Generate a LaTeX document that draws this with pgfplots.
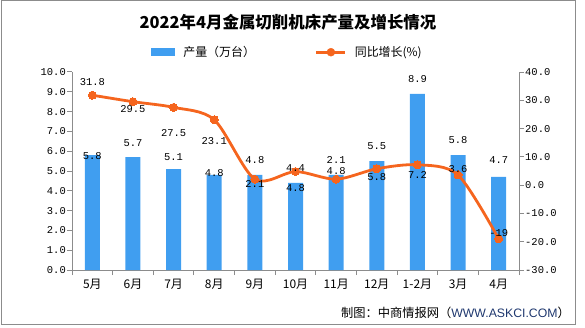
\documentclass[border=0pt]{standalone}
\usepackage{fontspec}
\usepackage{pgfplots}
\pgfplotsset{compat=1.18}
\setmainfont{Noto Sans CJK SC}
\newfontfamily\mono{Liberation Mono}
\newfontfamily\lsans{Liberation Sans}
\definecolor{barblue}{RGB}{64,158,240}
\definecolor{lineor}{RGB}{245,101,30}
\definecolor{axgray}{RGB}{140,140,140}
\definecolor{footblue}{RGB}{30,55,110}
\pgfplotstableread{
x y lab
0 5.76 5.8
1 6.41 5.7
2 5.71 5.1
3 4.91 4.8
4 5.56 4.8
5 5.14 4.4
6 5.00 4.8
7 6.26 5.5
8 9.63 8.9
9 6.57 5.8
10 5.56 4.7
}\barlabels
\pgfplotstableread{
x y lab
0 9.48 31.8
1 8.11 29.5
2 6.94 27.5
3 6.53 23.1
4 4.34 2.1
5 4.12 4.8
6 5.56 2.1
7 4.71 5.8
8 4.80 7.2
9 5.08 3.6
10 1.85 -19
}\linelabels
\begin{document}
\begin{tikzpicture}[x=1bp,y=1bp]
\path[use as bounding box] (0,0) rectangle (585,327);
\draw[axgray, line width=1bp] (1,2.5) rectangle (575,326.5);
\node[font=\bfseries\fontsize{16.5}{18}\selectfont] at (288,305) {2022年4月金属切削机床产量及增长情况};
\node[anchor=east, font=\fontsize{12.3}{14}\selectfont, inner sep=0] at (570,14) {制图：中商情报网（\textcolor{footblue}{\lsans WWW.ASKCI.COM}）};
\begin{axis}[
  at={(72bp,57bp)}, anchor=south west, scale only axis,
  width=447bp, height=198bp,
  xmin=-0.5, xmax=10.5, ymin=0, ymax=10,
  axis y line*=left, axis x line*=bottom,
  axis line style={axgray, line width=1bp, -},
  tick style={axgray, line width=1bp},
  tick align=outside, major tick length=5bp,
  xtick={-0.5,0.5,1.5,2.5,3.5,4.5,5.5,6.5,7.5,8.5,9.5,10.5},
  x tick label as interval,
  xticklabels={5月,6月,7月,8月,9月,10月,11月,12月,1-2月,3月,4月},
  xticklabel style={font=\fontsize{12}{14}\selectfont, text=black, yshift=-1bp},
  ytick={0,1,...,10},
  /pgf/number format/assume math mode=true,
  yticklabel={\pgfmathprintnumber[fixed,fixed zerofill,precision=1]{\tick}},
  yticklabel style={font=\mono\fontsize{10.5}{12}\selectfont, text=black, inner sep=1bp},
  legend style={at={(axis description cs:0.177,1.1)}, anchor=west, draw=none, fill=none,
    legend columns=2, font=\fontsize{12}{14}\selectfont, inner sep=0pt,
    /tikz/every odd column/.append style={column sep=6bp},
    /tikz/every even column/.append style={column sep=58bp}},
  clip=false,
]
\addplot[ybar, bar width=15bp, fill=barblue, draw=none,
  legend image code/.code={\fill[barblue] (0bp,-4bp) rectangle (24bp,4bp);}]
  coordinates {(0,5.8) (1,5.7) (2,5.1) (3,4.8) (4,4.8) (5,4.4) (6,4.8) (7,5.5) (8,8.9) (9,5.8) (10,4.7)};
\addlegendentry{产量（万台）}
\addlegendimage{legend image code/.code={\draw[lineor, line width=2.8bp] (0bp,0bp) -- (29bp,0bp); \fill[lineor] (14.5bp,0bp) circle (4bp);}}
\addlegendentry{同比增长(\%)}
\end{axis}
\begin{axis}[
  at={(72bp,57bp)}, anchor=south west, scale only axis,
  width=447bp, height=198bp,
  xmin=-0.5, xmax=10.5, ymin=-30, ymax=40,
  axis y line*=right, axis x line=none,
  axis line style={axgray, line width=1bp, -},
  tick style={axgray, line width=1bp},
  tick align=outside, major tick length=5bp,
  ytick={-30,-20,...,40},
  /pgf/number format/assume math mode=true,
  yticklabel={\pgfmathprintnumber[fixed,fixed zerofill,precision=1]{\tick}},
  yticklabel style={font=\mono\fontsize{10.5}{12}\selectfont, text=black, inner sep=1bp},
  clip=false,
]
\addplot[lineor, line width=2.8bp, smooth, mark=*, mark size=4bp, mark options={fill=lineor, draw=lineor, line width=0pt}]
  coordinates {(0,31.8) (1,29.5) (2,27.5) (3,23.1) (4,2.1) (5,4.8) (6,2.1) (7,5.8) (8,7.2) (9,3.6) (10,-19)};
\end{axis}
\begin{axis}[
  at={(72bp,57bp)}, anchor=south west, scale only axis,
  width=447bp, height=198bp,
  xmin=-0.5, xmax=10.5, ymin=0, ymax=10,
  hide axis, clip=false,
]
\addplot[draw=none, mark=none, nodes near coords, point meta=explicit symbolic,
  nodes near coords style={anchor=center, inner sep=0pt, font=\mono\fontsize{10.5}{12}\selectfont, text=black}]
  table[x=x, y=y, meta=lab] {\barlabels};
\addplot[draw=none, mark=none, nodes near coords, point meta=explicit symbolic,
  nodes near coords style={anchor=center, inner sep=0pt, font=\mono\fontsize{10.5}{12}\selectfont, text=black}]
  table[x=x, y=y, meta=lab] {\linelabels};
\end{axis}
\end{tikzpicture}
\end{document}
